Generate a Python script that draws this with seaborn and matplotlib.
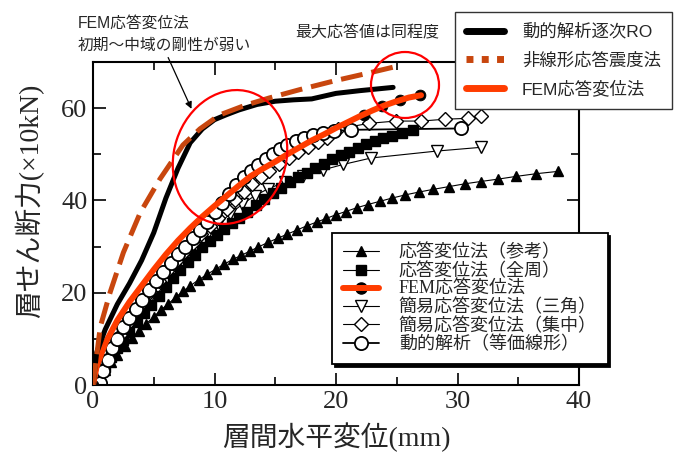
import numpy as np
import pandas as pd
import matplotlib
matplotlib.use('Agg')
import matplotlib.pyplot as plt
import seaborn as sns
from matplotlib.lines import Line2D
from matplotlib.patches import Ellipse
from matplotlib.legend_handler import HandlerTuple

# 動的解析逐次RO
ro_x = [0, 0.3, 1, 2, 3, 4, 5, 6, 7, 8, 9, 10, 11, 12, 13.5, 15, 16.5, 18, 19, 20, 22, 24.7]
ro_y = [0, 7, 12, 17.5, 22, 27, 33, 40.5, 47, 52.5, 55.5, 57.5, 58.6, 59.6, 60.8, 61.5, 61.8, 62, 62.6, 63.2, 63.8, 64.5]

# 非線形応答震度法
spec_x = [0, 0.6, 1.4, 2.5, 3.9, 5.5, 7.4, 8.8, 10.4, 12.5, 14.5, 17, 20, 22.5, 24.9]
spec_y = [0, 12.6, 20, 28.7, 37.4, 44.6, 52, 55.5, 58.5, 60.6, 62.2, 64, 66, 67.5, 69]

# FEM応答変位法
fem_x = [0, 0.3, 1, 2, 3, 4, 5, 6, 7, 8, 9, 10, 11, 12, 13, 14, 15, 16, 17, 18, 19, 20,
         21, 22, 23, 24, 25, 26, 27]
fem_y = [0, 4, 9, 14, 18, 21.5, 25, 28.3, 31.3, 34, 36.5, 38.8, 41, 43.2, 45.3, 46.9, 48.4,
         50, 51.5, 53, 54.3, 55.7, 57, 58.3, 59.5, 60.6, 61.5, 62.3, 62.8]
fem_dot_x = [0, 22.3, 23.8, 25.3, 26.9]
fem_dot_y = [0, 58.6, 60.5, 61.7, 62.8]

# 応答変位法（参考）
ref_x = [0, 0.5, 1, 1.5, 2, 2.6, 3.2, 3.8, 4.4, 5, 5.6, 6.2, 6.8, 7.4, 8, 8.7, 9.4, 10.1,
         10.8, 11.5, 12.2, 12.9, 13.6, 14.4, 15.2, 16, 16.8, 17.6, 18.4, 19.2, 20, 20.8,
         21.7, 22.6, 23.6, 24.6, 25.7, 26.8, 28, 29.3, 30.6, 31.9, 33.3, 34.8, 36.5, 38.3]
ref_y = [0, 1.7, 3.3, 5, 6.6, 8.5, 10.2, 11.8, 13.3, 14.8, 16.3, 17.6, 19, 20.3, 21.5, 22.8,
         24, 25.1, 26.2, 27.2, 28.1, 29, 29.9, 30.9, 31.8, 32.7, 33.6, 34.5, 35.3, 36.1, 36.9,
         37.6, 38.4, 39.1, 39.8, 40.5, 41.2, 41.8, 42.4, 43, 43.6, 44.1, 44.6, 45.2, 45.8, 46.3]

# 応答変位法（全周）
sq_x = [0, 0.5, 1, 1.5, 2, 2.5, 3, 3.6, 4.2, 4.8, 5.4, 6, 6.6, 7.2, 7.8, 8.4, 9, 9.6, 10.2,
        10.8, 11.4, 12, 12.7, 13.4, 14.1, 14.8, 15.5, 16.2, 16.9, 17.6, 18.3, 19, 19.7, 20.4,
        21.1, 21.8, 22.5, 23.2, 23.9, 24.6, 25.4, 26.3]
sq_y = [0, 2, 4, 6, 8, 9.8, 11.5, 13.6, 15.6, 17.4, 19.3, 21.3, 23.1, 24.9, 26.6, 28.2, 29.8,
        31.2, 32.6, 33.9, 35.1, 36.3, 37.6, 39, 40.4, 41.6, 42.8, 44, 45.1, 46, 47, 48, 48.9,
        49.8, 50.6, 51.4, 52.2, 52.9, 53.5, 54, 54.6, 55.2]

# 簡易応答変位法（三角）
tri_x = [0, 0.5, 1, 1.5, 2, 2.6, 3.2, 3.8, 4.5, 5.2, 6, 6.8, 7.6, 8.5, 9.4, 10.3, 11.3, 12.3,
         13.3, 14.4, 15.8, 17.3, 18.9, 20.6, 22.9, 28.3, 31.9]
tri_y = [0, 2.2, 4.4, 6.6, 8.6, 11, 13.3, 15.5, 18, 20.4, 23, 25.5, 27.8, 30.3, 32.6, 34.8,
         37.1, 39.2, 41, 42.5, 44, 45.3, 46.6, 47.8, 49.2, 50.7, 51.5]

# 簡易応答変位法（集中）
dia_x = [0, 0.5, 1, 1.6, 2.2, 2.8, 3.4, 4, 4.7, 5.4, 6.1, 6.8, 7.5, 8.2, 8.9, 9.6, 10.3, 11,
         11.7, 12.4, 13.1, 13.8, 14.5, 15.3, 16.1, 16.9, 17.7, 18.5, 19.3, 20.2, 22.7, 24.9,
         27, 29, 30.9, 31.9]
dia_y = [0, 2.8, 5.3, 8.2, 10.8, 13.3, 15.6, 17.8, 20.2, 22.5, 24.7, 26.8, 28.8, 30.8, 32.7,
         34.5, 36.3, 38.2, 40, 41.8, 43.5, 45, 46.4, 47.9, 49.3, 50.5, 51.6, 52.6, 53.6, 55.5,
         56.7, 57.2, 57.2, 57.6, 57.8, 58.3]

# 動的解析（等価線形）
circ_x = [0.6, 0.8, 1.2, 1.6, 2.0, 2.5, 3.0, 3.5, 4.0, 4.6, 5.2, 5.8, 6.4, 7.0, 7.6, 8.2,
          8.8, 9.4, 10.0, 10.6, 11.2, 11.8, 12.4, 13.0, 13.6, 14.2, 14.8, 15.4, 16.0, 16.7,
          17.4, 18.1, 18.9, 19.8, 21.2, 30.3]
circ_y = [0.5, 3, 5.5, 8, 10, 12.5, 14.5, 16.5, 18.5, 20.5, 22.5, 24.5, 26.5, 28.3, 30, 31.8,
          33.5, 35.3, 37.4, 39.5, 41.5, 43.3, 45, 46.4, 47.7, 49, 50.1, 51.1, 52, 52.9, 53.6,
          54.2, 54.7, 55, 55.3, 55.6]

sns.set_style('ticks')
plt.rcParams['font.family'] = ['Liberation Serif', 'Noto Sans CJK JP']
serif = ['Liberation Serif', 'Noto Sans CJK JP']
gothic = ['Liberation Sans', 'Noto Sans CJK JP']

c_fem = '#ff3c00'
c_spec = '#c8460e'

fig = plt.figure(figsize=(6.79, 4.55), dpi=100)
ax = fig.add_axes([93/679, 1-385/455, (579-93)/679, (385-62)/455])


def marked(x, y, marker, ms, fc, lw=0.8, mew=1.0):
    sns.lineplot(x=x, y=y, ax=ax, color='black', lw=lw, marker=marker, markersize=ms,
                 markerfacecolor=fc, markeredgecolor='black', markeredgewidth=mew,
                 sort=False, estimator=None)


marked(ref_x, ref_y, '^', 7, 'black')
marked(tri_x, tri_y, 'v', 8, 'white')
marked(sq_x, sq_y, 's', 6.5, 'black')
marked(dia_x, dia_y, 'D', 7, 'white')
marked(circ_x, circ_y, 'o', 9.5, 'white', lw=1.3, mew=1.3)

sns.scatterplot(x=fem_dot_x, y=fem_dot_y, ax=ax, color='black', s=60, edgecolor='black',
                zorder=3)
sns.lineplot(x=fem_x, y=fem_y, ax=ax, color=c_fem, lw=4.3, sort=False, zorder=4)
sns.lineplot(x=ro_x, y=ro_y, ax=ax, color='black', lw=3.6, sort=False, zorder=4)
sns.lineplot(x=spec_x, y=spec_y, ax=ax, color=c_spec, lw=3.6, sort=False, zorder=5,
             dashes=False)
ax.lines[-1].set_dashes((4.4, 1.8))

ax.set_xlim(0, 40)
ax.set_ylim(0, 70)
ax.set_xticks([0, 10, 20, 30, 40])
ax.set_xticks([5, 15, 25, 35], minor=True)
ax.set_yticks([0, 20, 40, 60])
ax.set_yticks([10, 30, 50, 70], minor=True)
ax.tick_params(which='both', direction='in', top=True, right=True, width=1.4,
               labelsize=19, pad=4)
ax.tick_params(which='major', length=9)
ax.tick_params(which='minor', length=6)
for s in ax.spines.values():
    s.set_linewidth(1.5)
    s.set_color('black')
for lab in ax.get_xticklabels() + ax.get_yticklabels():
    lab.set_family('Liberation Serif')

ax.set_xlabel('層間水平変位(mm)', fontsize=20, family=serif, labelpad=7)
ax.set_ylabel('層せん断力(×10kN)', fontsize=20, family=serif)
ax.yaxis.set_label_coords(-0.10, 0.57)

# annotations
for (cx, cy, w, h, ang) in [(2.30, 2.98, 1.12, 1.36, -18), (4.05, 3.70, 0.68, 0.66, 0)]:
    ax.add_artist(Ellipse((cx, cy), w, h, angle=ang, transform=fig.dpi_scale_trans,
                          fill=False, edgecolor='red', lw=1.6, zorder=6, clip_on=False))

fig.text(78/679, 1-23/455, 'FEM応答変位法', family=gothic, fontsize=11.3, va='center')
fig.text(78/679, 1-45/455, '初期～中域の剛性が弱い', family=gothic, fontsize=11.3, va='center')
fig.text(295/679, 1-33/455, '最大応答値は同程度', family=gothic, fontsize=11.5, va='center')
ax.annotate('', xy=(8.2, 59.3), xytext=(167, 455-55), textcoords='figure pixels',
            annotation_clip=False,
            arrowprops=dict(arrowstyle='-|>', color='black', lw=0.9, mutation_scale=10))

# legend 1
h1 = [Line2D([], [], color='black', lw=5),
      Line2D([], [], color=c_spec, lw=5, ls=(0, (1.0, 1.2))),
      Line2D([], [], color=c_fem, lw=5)]
leg1 = fig.legend(h1, ['動的解析逐次RO', '非線形応答震度法', 'FEM応答変位法'],
                  loc='upper left', bbox_to_anchor=(455/679, 1-12/455), frameon=True,
                  fancybox=False, edgecolor='#333333', framealpha=1, borderaxespad=0,
                  prop={'family': gothic, 'size': 12.5}, handlelength=2.2,
                  handletextpad=1.0, labelspacing=0.7, borderpad=0.65)
leg1.get_frame().set_linewidth(1.0)

# legend 2
h2 = [Line2D([], [], color='black', lw=0.8, marker='^', ms=7, mfc='black'),
      Line2D([], [], color='black', lw=0.8, marker='s', ms=6.5, mfc='black'),
      (Line2D([], [], ls='none', marker='o', ms=8, mfc='black', mec='black'),
       Line2D([], [], color=c_fem, lw=4.3)),
      Line2D([], [], color='black', lw=0.8, marker='v', ms=8, mfc='white', mec='black'),
      Line2D([], [], color='black', lw=0.8, marker='D', ms=7, mfc='white', mec='black'),
      Line2D([], [], color='black', lw=1.3, marker='o', ms=9.5, mfc='white', mec='black',
             mew=1.3)]
labels2 = ['応答変位法（参考）', '応答変位法（全周）', 'FEM応答変位法',
           '簡易応答変位法（三角）', '簡易応答変位法（集中）', '動的解析（等価線形）']
leg2 = fig.legend(h2, labels2, loc='upper left', bbox_to_anchor=(332/679, 1-233/455),
                  frameon=True, fancybox=False, edgecolor='black', framealpha=1,
                  borderaxespad=0, prop={'family': serif, 'size': 13},
                  handlelength=2.0, handletextpad=1.1, labelspacing=0.05, borderpad=0.6,
                  shadow={'color': 'black', 'alpha': 1},
                  handler_map={tuple: HandlerTuple(ndivide=1)})
leg2.get_frame().set_linewidth(1.3)

fig.savefig('out.png', dpi=100)
